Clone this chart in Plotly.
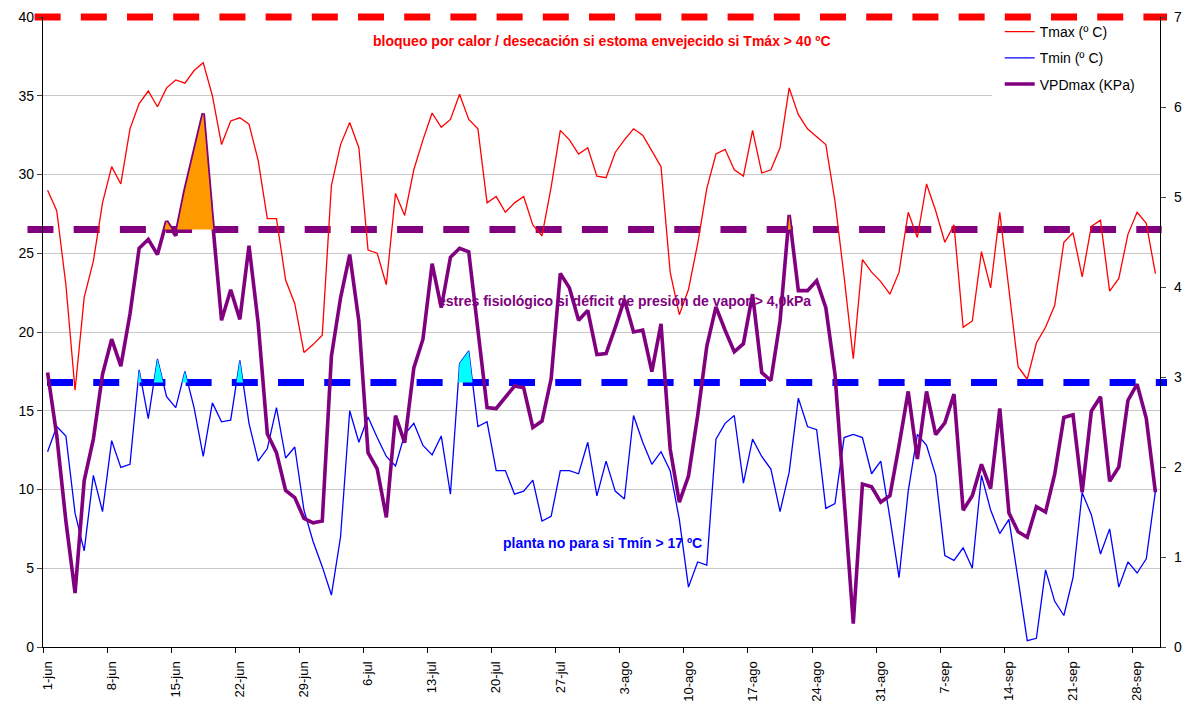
import plotly.graph_objects as go

# ---------------- data ----------------
tick_labels = ["1-jun", "8-jun", "15-jun", "22-jun", "29-jun", "6-jul", "13-jul", "20-jul",
               "27-jul", "3-ago", "10-ago", "17-ago", "24-ago", "31-ago", "7-sep", "14-sep",
               "21-sep", "28-sep"]
tick_every = 7
n_days = 122

tmax = [29.0, 27.7, 23.0, 16.3, 22.2, 24.5, 28.2, 30.5, 29.4, 32.9,
        34.5, 35.3, 34.3, 35.5, 36.0, 35.8, 36.6, 37.1, 35.0, 31.9,
        33.4, 33.6, 33.2, 30.9, 27.2, 27.2, 23.3, 21.8, 18.7, 19.2,
        19.8, 29.3, 31.9, 33.3, 31.7, 25.2, 25.0, 23.0, 28.8, 27.4,
        30.3, 32.2, 33.9, 33.0, 33.5, 35.1, 33.5, 32.9, 28.2, 28.6,
        27.6, 28.2, 28.6, 26.8, 26.1, 29.2, 32.8, 32.2, 31.3, 31.7,
        29.9, 29.8, 31.4, 32.2, 32.9, 32.5, 31.5, 30.5, 23.8, 21.1,
        22.7, 25.6, 29.1, 31.3, 31.6, 30.3, 29.9, 32.8, 30.1, 30.3,
        31.7, 35.5, 33.8, 32.9, 32.4, 31.9, 28.3, 23.5, 18.3, 24.6,
        23.8, 23.2, 22.4, 23.8, 27.6, 26.0, 29.4, 27.7, 25.7, 26.8,
        20.3, 20.7, 25.1, 22.8, 27.6, 22.5, 17.8, 17.0, 19.3, 20.3,
        21.7, 25.7, 26.3, 23.5, 26.7, 27.1, 22.6, 23.4, 26.2, 27.6,
        26.9, 23.7]

tmin = [12.4, 14.0, 13.4, 8.5, 6.1, 10.9, 8.6, 13.1, 11.4, 11.6,
        17.6, 14.5, 18.3, 15.9, 15.2, 17.5, 15.2, 12.1, 15.5, 14.3,
        14.4, 18.2, 14.2, 11.8, 12.6, 15.2, 12.0, 12.7, 8.7, 6.7,
        5.1, 3.3, 7.0, 15.0, 13.0, 14.6, 13.3, 12.1, 11.5, 13.5,
        14.2, 12.8, 12.2, 13.4, 9.7, 18.0, 18.8, 14.0, 14.3, 11.2,
        11.2, 9.7, 9.9, 10.6, 8.0, 8.3, 11.2, 11.2, 11.0, 13.0,
        9.6, 11.8, 9.9, 9.4, 14.7, 13.0, 11.6, 12.4, 11.2, 8.1,
        3.8, 5.4, 5.2, 13.2, 14.2, 14.7, 10.4, 13.2, 12.1, 11.3,
        8.6, 11.1, 15.8, 14.0, 13.8, 8.8, 9.1, 13.3, 13.5, 13.3,
        11.0, 11.8, 8.2, 4.4, 9.9, 13.5, 12.8, 10.9, 5.8, 5.5,
        6.3, 5.0, 10.9, 8.7, 7.2, 8.1, 4.3, 0.4, 0.55, 4.9,
        2.9, 2.0, 4.4, 9.8, 8.4, 5.9, 7.5, 3.8, 5.4, 4.7,
        5.6, 9.9]

vpdmax = [3.05, 2.35, 1.40, 0.60, 1.85, 2.31, 3.03, 3.42, 3.12, 3.70,
          4.43, 4.53, 4.36, 4.73, 4.57, 5.07, 5.50, 5.93, 4.75, 3.63,
          3.97, 3.64, 4.46, 3.60, 2.37, 2.16, 1.74, 1.66, 1.43, 1.38,
          1.40, 3.23, 3.88, 4.36, 3.62, 2.16, 1.98, 1.44, 2.57, 2.27,
          3.10, 3.42, 4.26, 3.77, 4.33, 4.43, 4.39, 3.50, 2.66, 2.65,
          2.77, 2.90, 2.88, 2.44, 2.51, 2.98, 4.15, 3.99, 3.63, 3.74,
          3.25, 3.26, 3.55, 3.86, 3.50, 3.52, 3.06, 3.59, 2.20, 1.61,
          1.90, 2.57, 3.34, 3.78, 3.52, 3.28, 3.37, 3.92, 3.05, 2.96,
          3.62, 4.80, 3.96, 3.96, 4.07, 3.77, 3.03, 1.70, 0.26, 1.81,
          1.78, 1.61, 1.68, 2.24, 2.84, 2.09, 2.84, 2.36, 2.49, 2.81,
          1.52, 1.68, 2.03, 1.76, 2.65, 1.49, 1.28, 1.22, 1.56, 1.50,
          1.92, 2.55, 2.58, 1.72, 2.62, 2.78, 1.84, 2.00, 2.74, 2.92,
          2.54, 1.72]

TMAX_LIMIT = 40.0    # left axis
VPD_LIMIT = 4.64     # right axis
TMIN_LIMIT = 16.8    # left axis
LEFT_MAX, RIGHT_MAX = 40, 7

days = list(range(n_days))

# ---------------- helpers ----------------
def above(xs, ys, thr):
    """points of max(y, thr) with exact threshold crossings inserted"""
    px, py = [], []
    for k in range(len(xs)):
        if k > 0:
            y0, y1 = ys[k - 1], ys[k]
            if (y0 - thr) * (y1 - thr) < 0:
                t = (thr - y0) / (y1 - y0)
                px.append(xs[k - 1] + t * (xs[k] - xs[k - 1]))
                py.append(thr)
        px.append(xs[k])
        py.append(max(ys[k], thr))
    return px, py

FONT = "Liberation Sans, Arial, sans-serif"
fig = go.Figure()

fig.add_trace(go.Scatter(x=days, y=tmax, mode="lines", name="Tmax (º C)", legendgroup="a",
                         line=dict(color="#FF0000", width=1.3)))
fig.add_trace(go.Scatter(x=days, y=tmin, mode="lines", name="Tmin (º C)", legendgroup="b",
                         line=dict(color="#0000FF", width=1.3)))

cx, cy = above(days, tmin, TMIN_LIMIT)
fig.add_trace(go.Scatter(x=cx, y=[TMIN_LIMIT] * len(cx), mode="lines",
                         line=dict(width=0), showlegend=False, hoverinfo="skip"))
fig.add_trace(go.Scatter(x=cx, y=cy, mode="lines", fill="tonexty", fillcolor="#00FFFF",
                         line=dict(width=0), showlegend=False, hoverinfo="skip"))

fig.add_trace(go.Scatter(x=days, y=vpdmax, mode="lines", name="VPDmax (KPa)", yaxis="y2",
                         legendgroup="c", line=dict(color="#800080", width=3.6)))
ox, oy = above(days, vpdmax, VPD_LIMIT)
fig.add_trace(go.Scatter(x=ox, y=[VPD_LIMIT] * len(ox), mode="lines", yaxis="y2",
                         line=dict(width=0), showlegend=False, hoverinfo="skip"))
fig.add_trace(go.Scatter(x=ox, y=oy, mode="lines", fill="tonexty", fillcolor="#FF9900",
                         yaxis="y2", line=dict(width=0), showlegend=False, hoverinfo="skip"))

# threshold dashed lines
dash = "26px,20.2px"
for val, vmax, col, x0, x1 in [(TMAX_LIMIT, LEFT_MAX, "#FF0000", -0.0075, 1.0063),
                               (VPD_LIMIT, RIGHT_MAX, "#800080", -0.0139, 1.0015),
                               (TMIN_LIMIT, LEFT_MAX, "#0000FF", 0.0036, 1.0063)]:
    fig.add_shape(type="line", xref="paper", yref="paper", x0=x0, x1=x1,
                  y0=val / vmax, y1=val / vmax, layer="below",
                  line=dict(color=col, width=7, dash=dash))

# white legend panel (hides the gridline behind the legend, stays below the red dash)
fig.add_shape(type="rect", xref="paper", yref="paper", x0=0.8496, x1=1.0, y0=0.868, y1=0.991,
              layer="above", fillcolor="white", line=dict(width=0))

# annotations
ann = [("bloqueo por calor / desecación si estoma envejecido si Tmáx > 40 ºC", 60.5, 38.5, "#FF0000"),
       ("estres fisiológico si déficit de presión de vapor > 4,0kPa", 63.0, 22.0, "#800080"),
       ("planta no para si Tmín > 17 ºC", 60.6, 6.6, "#0000FF")]
for txt, xa, ya, col in ann:
    fig.add_annotation(x=xa, y=ya, xref="x", yref="y", text="<b>%s</b>" % txt, showarrow=False,
                       font=dict(family=FONT, size=14, color=col))

minor_vals = [k - 0.5 for k in range(0, n_days + 1, tick_every)]
fig.update_layout(
    width=1186, height=701,
    margin=dict(l=43, r=26, t=17, b=54),
    paper_bgcolor="white", plot_bgcolor="rgba(0,0,0,0)",
    font=dict(family=FONT, size=14, color="black"),
    showlegend=True,
    legend=dict(x=0.8565, y=1.0015, xanchor="left", yanchor="top", bgcolor="rgba(0,0,0,0)",
                font=dict(family=FONT, size=14), traceorder="grouped", tracegroupgap=5),
    xaxis=dict(range=[-0.5, n_days - 0.5], tickmode="array",
               tickvals=list(range(0, n_days, tick_every))[:len(tick_labels)],
               ticktext=tick_labels, tickangle=-90, ticks="", showgrid=False,
               showline=True, linecolor="black", linewidth=1.3, zeroline=False,
               tickfont=dict(size=13), automargin=False, ticklabelstandoff=8,
               minor=dict(tickmode="array", tickvals=minor_vals, ticks="outside",
                          ticklen=5, tickcolor="black", showgrid=False)),
    yaxis=dict(range=[0, LEFT_MAX], dtick=5, showgrid=True, gridcolor="#C8C8C8", gridwidth=1,
               showline=True, linecolor="black", linewidth=1.3, ticks="outside", ticklen=5,
               zeroline=False, automargin=False),
    yaxis2=dict(range=[0, RIGHT_MAX], dtick=1, overlaying="y", side="right", showgrid=False,
                showline=True, linecolor="black", linewidth=1.3, ticks="outside", ticklen=5,
                ticklabelstandoff=5, zeroline=False, automargin=False),
)

fig.write_html("out.html", config={"displayModeBar": False},
               post_script="document.body.style.margin='0px';document.body.style.overflow='hidden';")
